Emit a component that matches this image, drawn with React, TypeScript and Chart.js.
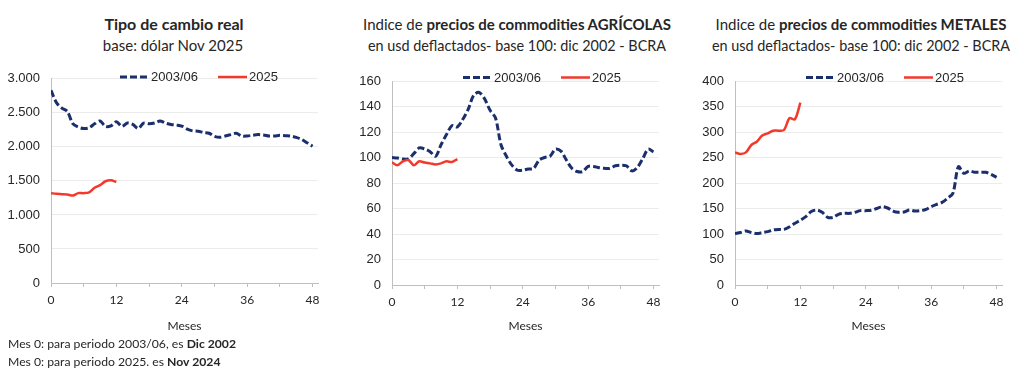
import React, { useEffect, useRef } from 'react';
import { Chart, registerables } from 'chart.js';

Chart.register(...registerables);

// ---------- data ----------
const X_TICKS = [0, 6, 12, 18, 24, 30, 36, 42, 48];
const X_LABELED = [0, 12, 24, 36, 48];
const SERIES_NAMES = ['2003/06', '2025'];

// Tipo de cambio real (base: dólar Nov 2025), by month 0..48
const TC_2003 = [
  2830, 2650, 2570, 2520, 2340, 2290, 2270, 2280, 2340, 2380, 2300, 2310, 2370,
  2300, 2350, 2330, 2270, 2350, 2340, 2350, 2380, 2350, 2330, 2320, 2305,
  2260, 2235, 2230, 2210, 2200, 2155, 2140, 2160, 2180, 2200, 2160, 2160,
  2170, 2180, 2175, 2160, 2160, 2170, 2165, 2160, 2140, 2110, 2060, 2010,
];
const TC_2025 = [1320, 1310, 1305, 1300, 1285, 1320, 1320, 1333, 1400, 1438, 1495, 1510, 1485];

// Commodities agrícolas (base 100: dic 2002)
const AGRI_2003 = [
  100, 99.6, 98.8, 99, 103, 107.5, 106.7, 104.6, 101, 110, 118, 125, 124,
  130, 138, 149, 151, 146, 137, 131, 110, 101, 94, 90, 90,
  91, 91.5, 98, 100, 101, 106.5, 105, 98, 91.5, 89, 89, 93,
  93, 92, 91.5, 91.5, 93.5, 94, 93.5, 89.5, 92, 99, 106.5, 104.5,
];
const AGRI_2025 = [96.2, 94, 97, 98, 94, 97, 96, 95.4, 94.6, 95.4, 97, 96.5, 98.8];

// Commodities metales (base 100: dic 2002)
const MET_2003 = [
  101, 103, 106, 103, 101, 102.6, 104.6, 108, 109, 109, 114, 121, 127,
  134, 144, 147, 142.5, 132.7, 132.7, 138.6, 140.5, 140.5, 142.5, 145.8, 145.8,
  146.4, 150, 153.6, 151, 145, 142.5, 143, 147, 145, 145.8, 148, 153.6,
  158, 162, 170, 180, 232, 219, 223.5, 221, 221, 221, 217, 211,
];
const MET_2025 = [260, 257, 260, 274.5, 281, 293, 297.4, 302.6, 302.6, 304, 327, 325, 357.5];

// ---------- styles ----------
const NAVY = '#1b2f6c';
const RED = '#f23a2c';
const TEXT = '#262626';
const AXIS = '#bfbfbf';
const GRID = '#ececec';
const ARIAL = '"Liberation Sans", Arial, sans-serif';
const CALIBRI = 'Lato, "Open Sans", sans-serif';

function fmtDots(v: number): string {
  if (v >= 1000) {
    const th = Math.floor(v / 1000);
    const rest = String(v % 1000).padStart(3, '0');
    return `${th}.${rest}`;
  }
  return String(v);
}

type PanelProps = {
  left: number;
  width: number;
  top: number;
  height: number;
  plotTop: number;
  plotBottom: number;
  yAxisWidth: number;
  yMax: number;
  yStep: number;
  old: number[];
  recent: number[];
  legendY: number;
  legendOffset: number;
};

function Panel(p: PanelProps) {
  const ref = useRef<HTMLCanvasElement>(null);
  useEffect(() => {
    if (!ref.current) return;
    const legendPlugin = {
      id: 'customLegend',
      afterDraw(chart: any) {
        const ctx = chart.ctx as CanvasRenderingContext2D;
        const ca = chart.chartArea;
        let x = ca.left + p.legendOffset;
        const y = p.legendY - p.top;
        ctx.save();
        ctx.font = `13px ${ARIAL}`;
        ctx.textBaseline = 'middle';
        ctx.textAlign = 'left';
        const dss = chart.data.datasets;
        dss.forEach((ds: any) => {
          ctx.beginPath();
          ctx.strokeStyle = ds.borderColor;
          ctx.lineWidth = ds.borderWidth;
          ctx.setLineDash(ds.borderDash || []);
          ctx.moveTo(x, y);
          ctx.lineTo(x + 29, y);
          ctx.stroke();
          ctx.setLineDash([]);
          ctx.fillStyle = TEXT;
          ctx.fillText(ds.label, x + 31, y + 0.5);
          x += 31 + ctx.measureText(ds.label).width + 20;
        });
        ctx.restore();
      },
    };
    const chart = new Chart(ref.current, {
      type: 'line',
      data: {
        datasets: [
          {
            label: SERIES_NAMES[0],
            data: p.old.map((v, i) => ({ x: i, y: v })),
            borderColor: NAVY,
            borderWidth: 3,
            borderDash: [7, 3],
            pointRadius: 0,
            tension: 0.3,
            fill: false,
            order: 1,
          },
          {
            label: SERIES_NAMES[1],
            data: p.recent.map((v, i) => ({ x: i, y: v })),
            borderColor: RED,
            borderWidth: 2.5,
            pointRadius: 0,
            tension: 0.3,
            fill: false,
            order: 0,
          },
        ],
      },
      options: {
        responsive: false,
        animation: false,
        layout: { padding: { top: p.plotTop - p.top, right: 10, left: 0, bottom: 0 } },
        plugins: {
          legend: { display: false },
          tooltip: { enabled: false },
          title: { display: false },
        },
        scales: {
          x: {
            type: 'linear',
            min: 0,
            max: 49,
            afterBuildTicks: (s: any) => {
              s.ticks = X_TICKS.map((v) => ({ value: v }));
            },
            afterFit: (s: any) => {
              s.height = p.height - (p.plotBottom - p.top);
            },
            ticks: {
              autoSkip: false,
              maxRotation: 0,
              padding: 6,
              color: TEXT,
              font: { family: CALIBRI, size: 12 },
              callback: (v: any) => (X_LABELED.includes(Number(v)) ? String(v) : ''),
            },
            grid: { drawOnChartArea: false, drawTicks: true, tickLength: 4, color: AXIS },
            border: { color: AXIS, width: 1 },
            title: {
              display: true,
              text: 'Meses',
              color: TEXT,
              font: { family: CALIBRI, size: 12 },
              padding: { top: 4, bottom: 7 },
            },
          },
          y: {
            min: 0,
            max: p.yMax,
            afterFit: (s: any) => {
              s.width = p.yAxisWidth;
            },
            ticks: {
              stepSize: p.yStep,
              padding: 11,
              color: TEXT,
              font: { family: ARIAL, size: 13 },
              callback: (v: any) => fmtDots(Number(v)),
            },
            grid: { color: GRID, drawTicks: false },
            border: { color: AXIS, width: 1 },
          },
        },
      },
      plugins: [legendPlugin],
    } as any);
    return () => chart.destroy();
  }, []);
  return (
    <canvas
      ref={ref}
      width={p.width}
      height={p.height}
      style={{ position: 'absolute', left: p.left, top: p.top, width: p.width, height: p.height }}
    />
  );
}

function Line({ cx, cy, children, size = 15 }: { cx: number; cy: number; children: React.ReactNode; size?: number }) {
  return (
    <div
      style={{
        position: 'absolute',
        left: cx - 250,
        width: 500,
        top: cy - 10,
        height: 20,
        lineHeight: '20px',
        textAlign: 'center',
        fontFamily: CALIBRI,
        fontSize: size,
        color: TEXT,
        whiteSpace: 'nowrap',
      }}
    >
      {children}
    </div>
  );
}

export default function App() {
  return (
    <div
      style={{
        position: 'absolute',
        left: 0,
        top: 0,
        width: 1024,
        height: 373,
        background: '#fff',
        overflow: 'hidden',
      }}
    >
      <Line cx={174} cy={24} size={16}>
        <b>Tipo de cambio real</b>
      </Line>
      <Line cx={173} cy={45}>base: dólar Nov 2025</Line>
      <Line cx={517} cy={24}>
        Indice de <b>precios de commodities AGRÍCOLAS</b>
      </Line>
      <Line cx={517} cy={46} size={14.4}>en usd deflactados- base 100: dic 2002 - BCRA</Line>
      <Line cx={861} cy={24}>
        Indice de <b>precios de commodities METALES</b>
      </Line>
      <Line cx={861} cy={46} size={14.4}>en usd deflactados- base 100: dic 2002 - BCRA</Line>

      <Panel
        left={0}
        width={328}
        top={60}
        height={280}
        plotTop={74}
        plotBottom={283}
        yAxisWidth={51}
        yMax={3000}
        yStep={500}
        old={TC_2003}
        recent={TC_2025}
        legendY={77}
        legendOffset={69}
      />
      <Panel
        left={340}
        width={329}
        top={60}
        height={280}
        plotTop={81}
        plotBottom={285}
        yAxisWidth={52}
        yMax={160}
        yStep={20}
        old={AGRI_2003}
        recent={AGRI_2025}
        legendY={77.5}
        legendOffset={71}
      />
      <Panel
        left={684}
        width={328}
        top={60}
        height={280}
        plotTop={81}
        plotBottom={285}
        yAxisWidth={51}
        yMax={400}
        yStep={50}
        old={MET_2003}
        recent={MET_2025}
        legendY={77.5}
        legendOffset={71}
      />

      <div
        style={{
          position: 'absolute',
          left: 8,
          top: 335,
          fontFamily: CALIBRI,
          fontSize: 12.2,
          lineHeight: '18px',
          color: TEXT,
          whiteSpace: 'nowrap',
        }}
      >
        <div>
          Mes 0: para periodo 2003/06, es <b>Dic 2002</b>
        </div>
        <div>
          Mes 0: para periodo 2025. es <b>Nov 2024</b>
        </div>
      </div>
    </div>
  );
}
